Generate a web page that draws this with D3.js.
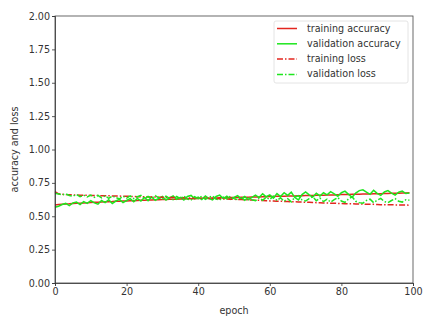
<!DOCTYPE html>
<html>
<head>
<meta charset="utf-8">
<script src="https://cdn.jsdelivr.net/npm/d3@7"></script>
<style>
  body { margin: 0; background: #fff; }
  text { font-family: "DejaVu Sans", sans-serif; fill: #333; }
</style>
</head>
<body>
<div id="chart"></div>
<script>
// values, one per epoch (0..99)
var trainAcc = [
  0.585,0.588,0.590,0.592,0.593,0.595,0.597,0.598,0.600,0.601,
  0.603,0.604,0.605,0.607,0.608,0.609,0.610,0.612,0.613,0.614,
  0.615,0.616,0.617,0.618,0.619,0.620,0.621,0.622,0.623,0.624,
  0.625,0.626,0.627,0.627,0.628,0.629,0.630,0.631,0.632,0.632,
  0.633,0.634,0.635,0.635,0.636,0.637,0.638,0.638,0.639,0.640,
  0.641,0.641,0.642,0.643,0.643,0.644,0.645,0.645,0.646,0.647,
  0.648,0.648,0.649,0.650,0.650,0.651,0.652,0.652,0.653,0.654,
  0.655,0.655,0.656,0.657,0.657,0.658,0.659,0.659,0.660,0.661,
  0.662,0.662,0.663,0.664,0.664,0.665,0.666,0.667,0.667,0.668,
  0.669,0.669,0.670,0.671,0.672,0.672,0.673,0.674,0.675,0.676];
var valAcc = [
  0.568,0.575,0.588,0.596,0.580,0.600,0.606,0.588,0.610,0.596,
  0.616,0.600,0.590,0.618,0.602,0.624,0.596,0.614,0.626,0.602,
  0.618,0.632,0.608,0.634,0.614,0.640,0.616,0.644,0.620,0.634,
  0.648,0.622,0.638,0.652,0.626,0.642,0.622,0.648,0.656,0.630,
  0.644,0.626,0.652,0.632,0.622,0.648,0.658,0.632,0.650,0.626,
  0.642,0.654,0.630,0.648,0.624,0.642,0.658,0.640,0.668,0.646,
  0.660,0.636,0.670,0.648,0.676,0.656,0.680,0.640,0.622,0.662,
  0.682,0.660,0.644,0.672,0.652,0.676,0.660,0.684,0.668,0.650,
  0.676,0.688,0.664,0.642,0.674,0.692,0.698,0.680,0.664,0.694,
  0.672,0.656,0.682,0.692,0.674,0.658,0.680,0.688,0.670,0.674];
var trainLoss = [
  0.685,0.668,0.664,0.662,0.661,0.660,0.659,0.658,0.657,0.657,
  0.656,0.655,0.655,0.654,0.653,0.653,0.652,0.651,0.651,0.650,
  0.649,0.649,0.648,0.647,0.647,0.646,0.645,0.645,0.644,0.643,
  0.643,0.642,0.641,0.641,0.640,0.639,0.639,0.638,0.637,0.636,
  0.636,0.635,0.634,0.633,0.633,0.632,0.631,0.630,0.629,0.628,
  0.627,0.626,0.625,0.624,0.623,0.621,0.620,0.619,0.618,0.616,
  0.615,0.614,0.613,0.612,0.611,0.610,0.609,0.608,0.607,0.606,
  0.605,0.604,0.603,0.602,0.601,0.600,0.599,0.598,0.597,0.596,
  0.595,0.594,0.594,0.593,0.592,0.591,0.591,0.590,0.589,0.589,
  0.588,0.587,0.587,0.586,0.586,0.585,0.585,0.584,0.584,0.583];
var valLoss = [
  0.672,0.666,0.660,0.668,0.656,0.650,0.664,0.646,0.658,0.644,
  0.658,0.642,0.656,0.638,0.654,0.634,0.652,0.640,0.630,0.650,
  0.636,0.652,0.632,0.646,0.656,0.630,0.648,0.634,0.654,0.638,
  0.628,0.650,0.634,0.624,0.648,0.632,0.652,0.628,0.622,0.646,
  0.632,0.650,0.626,0.642,0.652,0.628,0.622,0.644,0.630,0.650,
  0.632,0.624,0.644,0.620,0.638,0.624,0.616,0.638,0.620,0.642,
  0.626,0.650,0.618,0.638,0.612,0.632,0.608,0.644,0.654,0.622,
  0.614,0.632,0.646,0.616,0.636,0.610,0.628,0.606,0.624,0.640,
  0.614,0.604,0.630,0.646,0.612,0.602,0.598,0.618,0.628,0.602,
  0.620,0.634,0.610,0.602,0.618,0.632,0.612,0.606,0.624,0.620];

var seriesNames = ["training accuracy", "validation accuracy", "training loss", "validation loss"];
var xTicks = [0, 20, 40, 60, 80, 100];
var yTicks = [0, 0.25, 0.5, 0.75, 1.0, 1.25, 1.5, 1.75, 2.0];

var width = 435, height = 321;
var margin = {left: 55, right: 22, top: 16, bottom: 38};

var red = "#e3261f", green = "#1ee61e";
var series = [
  {name: seriesNames[0], values: trainAcc, color: red, dash: null},
  {name: seriesNames[1], values: valAcc, color: green, dash: null},
  {name: seriesNames[2], values: trainLoss, color: red, dash: "6,2,1.5,2"},
  {name: seriesNames[3], values: valLoss, color: green, dash: "6,2,1.5,2"}
];

var svg = d3.select("#chart").append("svg")
  .attr("width", width).attr("height", height);

var x = d3.scaleLinear().domain([0, 100]).range([margin.left, width - margin.right]);
var y = d3.scaleLinear().domain([0, 2]).range([height - margin.bottom, margin.top]);

// lines
var line = d3.line()
  .x(function(d, i) { return x(i); })
  .y(function(d) { return y(d); });

svg.selectAll("path.series")
  .data(series)
  .enter().append("path")
  .attr("class", "series")
  .attr("d", function(d) { return line(d.values); })
  .attr("fill", "none")
  .attr("stroke", function(d) { return d.color; })
  .attr("stroke-width", 1.5)
  .attr("stroke-dasharray", function(d) { return d.dash; });

// frame
svg.append("rect")
  .attr("x", x(0)).attr("y", y(2))
  .attr("width", x(100) - x(0)).attr("height", y(0) - y(2))
  .attr("fill", "none").attr("stroke", "#444").attr("stroke-width", 0.8);

// axes
var xAxis = svg.append("g")
  .attr("transform", "translate(0," + y(0) + ")")
  .call(d3.axisBottom(x).tickValues(xTicks).tickSize(3).tickPadding(2).tickFormat(d3.format("d")));
var yAxis = svg.append("g")
  .attr("transform", "translate(" + x(0) + ",0)")
  .call(d3.axisLeft(y).tickValues(yTicks).tickSize(3).tickPadding(2).tickFormat(d3.format(".2f")));

[xAxis, yAxis].forEach(function(g) {
  g.select(".domain").attr("stroke", "#333").attr("stroke-width", 0.8);
  g.selectAll(".tick line").attr("stroke", "#333").attr("stroke-width", 0.8);
  g.selectAll(".tick text").attr("font-size", 9.6).attr("font-family", "DejaVu Sans").attr("fill", "#444");
});

// axis labels
svg.append("text")
  .attr("x", (x(0) + x(100)) / 2).attr("y", 311)
  .attr("text-anchor", "middle").attr("dominant-baseline", "middle")
  .attr("font-size", 9.6).text("epoch");
svg.append("text")
  .attr("transform", "translate(15," + (y(0) + y(2)) / 2 + ") rotate(-90)")
  .attr("text-anchor", "middle").attr("dominant-baseline", "middle")
  .attr("font-size", 9.6).text("accuracy and loss");

// legend
var lg = svg.append("g").attr("transform", "translate(274,21)");
lg.append("rect")
  .attr("width", 134).attr("height", 62).attr("rx", 2)
  .attr("fill", "#fff").attr("stroke", "#ddd").attr("stroke-width", 0.8);
var rows = lg.selectAll("g.row").data(series).enter().append("g")
  .attr("class", "row")
  .attr("transform", function(d, i) { return "translate(0," + (7.5 + i * 15.3) + ")"; });
rows.append("line")
  .attr("x1", 3).attr("x2", 23)
  .attr("stroke", function(d) { return d.color; })
  .attr("stroke-width", 1.5)
  .attr("stroke-dasharray", function(d) { return d.dash; });
rows.append("text")
  .attr("x", 33).attr("dominant-baseline", "middle")
  .attr("font-size", 9.6).text(function(d) { return d.name; });
</script>
</body>
</html>
